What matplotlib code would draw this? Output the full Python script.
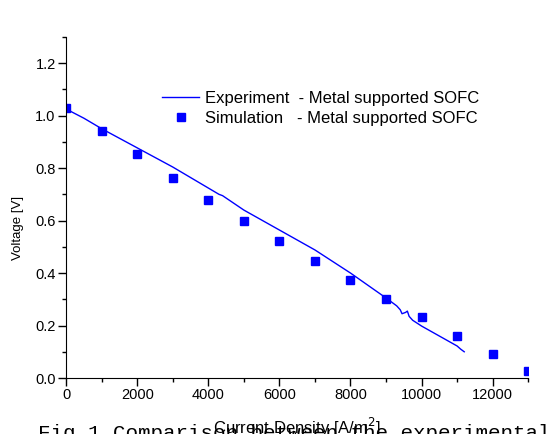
import numpy as np
import matplotlib.pyplot as plt

plt.rcParams['font.family'] = ['Liberation Sans', 'DejaVu Sans']

# Simulation points
sim_current = [0, 1000, 2000, 3000, 4000, 5000, 6000, 7000, 8000, 9000, 10000, 11000, 12000, 13000]
sim_voltage = [1.03, 0.943, 0.852, 0.763, 0.68, 0.60, 0.523, 0.446, 0.375, 0.30, 0.232, 0.162, 0.093, 0.025]

# Experimental curve
exp_current = [0, 500, 1000, 2000, 3000, 4000, 4300, 4400, 5000, 6000, 7000, 8000, 9000, 9300,
               9400, 9450, 9550, 9600, 9650, 9750, 10000, 10500, 11000, 11100, 11200]
exp_voltage = [1.025, 0.99, 0.95, 0.877, 0.804, 0.724, 0.70, 0.695, 0.64, 0.564, 0.488, 0.40, 0.305, 0.275,
               0.26, 0.245, 0.25, 0.255, 0.235, 0.22, 0.198, 0.16, 0.122, 0.11, 0.10]

fig = plt.figure(figsize=(5.56, 4.34), dpi=100)
ax = fig.add_axes([0.119, 0.129, 0.831, 0.786])

ax.plot(exp_current, exp_voltage, color='#0000ff', lw=1.0,
        label='Experiment  - Metal supported SOFC')
ax.plot(sim_current, sim_voltage, 's', color='#0000ff', ms=6, mec='#0000ff',
        label='Simulation   - Metal supported SOFC')

ax.set_xlim(0, 13000)
ax.set_ylim(0, 1.3)
ax.set_xticks(np.arange(0, 13000, 2000))
ax.set_xticks(np.arange(0, 13001, 1000), minor=True)
ax.set_yticks(np.arange(0, 1.21, 0.2))
ax.set_yticks(np.arange(0, 1.31, 0.1), minor=True)
ax.set_yticklabels(['0.0', '0.2', '0.4', '0.6', '0.8', '1.0', '1.2'])

ax.spines['top'].set_visible(False)
ax.spines['right'].set_visible(False)
ax.tick_params(which='both', direction='out', labelsize=10.5, width=1, pad=2)
ax.tick_params(which='major', length=5.5)
ax.tick_params(which='minor', length=3)

ax.set_ylabel('Voltage [V]', fontsize=9.5)
ax.yaxis.set_label_coords(-0.091, 0.44)
ax.set_xlabel('Current Density [A/m$^2$]', fontsize=12, labelpad=10)

ax.legend(loc='upper left', bbox_to_anchor=(0.19, 0.865), frameon=False, borderpad=0,
          fontsize=12, handlelength=2.2, handletextpad=0.35, labelspacing=0.3,
          markerscale=0.85)

fig.text(0.068, -0.0115, 'Fig.1 Comparison between the experimental',
         family='Liberation Mono', fontsize=15, va='baseline')

fig.savefig('out.png', dpi=100)
